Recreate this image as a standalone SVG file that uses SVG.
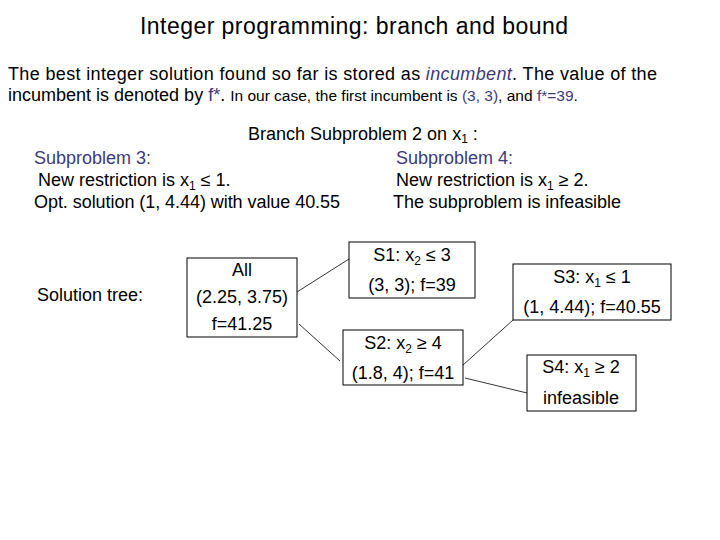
<svg xmlns="http://www.w3.org/2000/svg" width="720" height="540" viewBox="0 0 720 540">
<style>
text{font-family:"Liberation Sans",Arial,sans-serif;font-size:18px;fill:#000}
.p{fill:#3d3a7a}
.box{fill:#fff;stroke:#000;stroke-width:1}
.c{text-anchor:middle}
.s{font-size:12px}
line{stroke:#000;stroke-width:0.8}
</style>
<rect width="720" height="540" fill="#fff"/>
<text x="140" y="34" textLength="428" style="font-size:23px">Integer programming: branch and bound</text>
<text x="8" y="80" textLength="649">The best integer solution found so far is stored as <tspan class="p" font-style="italic">incumbent</tspan>. The value of the</text>
<text x="8" y="101">incumbent is denoted by <tspan class="p">f*</tspan>.  <tspan style="font-size:15.5px">In our case, the first incumbent is <tspan class="p">(3, 3)</tspan>, and <tspan class="p">f*=39</tspan>.</tspan></text>
<text x="248" y="140">Branch Subproblem 2 on x<tspan dy="3" class="s">1</tspan><tspan dy="-3"> :</tspan></text>
<text x="34" y="164" class="p">Subproblem 3:</text>
<text x="396" y="164" class="p">Subproblem 4:</text>
<text x="38" y="186">New restriction is x<tspan dy="4" class="s">1</tspan><tspan dy="-4"> ≤ 1.</tspan></text>
<text x="396" y="186">New restriction is x<tspan dy="4" class="s">1</tspan><tspan dy="-4"> ≥ 2.</tspan></text>
<text x="34" y="208" textLength="306">Opt. solution (1, 4.44) with value 40.55</text>
<text x="393" y="208" textLength="228">The subproblem is infeasible</text>
<text x="37" y="301">Solution tree:</text>
<g id="connectors">
<line x1="297" y1="292" x2="349" y2="259"/>
<line x1="299" y1="324" x2="340" y2="361"/>
<line x1="463" y1="365" x2="513" y2="320"/>
<line x1="465" y1="378" x2="527" y2="393"/>
</g>
<g id="all"><rect class="box" x="187" y="258" width="110" height="79"/>
<text x="242" y="276" class="c">All</text><text x="242" y="303" class="c">(2.25, 3.75)</text><text x="242" y="330" class="c">f=41.25</text></g>
<g id="s1"><rect class="box" x="349" y="242" width="126" height="56"/>
<text x="412" y="261" class="c">S1: x<tspan dy="4" class="s">2</tspan><tspan dy="-4"> ≤ 3</tspan></text><text x="412" y="291" class="c">(3, 3); f=39</text></g>
<g id="s2"><rect class="box" x="343" y="330" width="120" height="55"/>
<text x="403" y="349" class="c">S2: x<tspan dy="4" class="s">2</tspan><tspan dy="-4"> ≥ 4</tspan></text><text x="403" y="379" class="c">(1.8, 4); f=41</text></g>
<g id="s3"><rect class="box" x="513" y="264" width="158" height="56"/>
<text x="592" y="283" class="c">S3: x<tspan dy="4" class="s">1</tspan><tspan dy="-4"> ≤ 1</tspan></text><text x="592" y="313" class="c">(1, 4.44); f=40.55</text></g>
<g id="s4"><rect class="box" x="527" y="355" width="109" height="56"/>
<text x="581" y="373" class="c">S4: x<tspan dy="4" class="s">1</tspan><tspan dy="-4"> ≥ 2</tspan></text><text x="581" y="404" class="c">infeasible</text></g>
</svg>
